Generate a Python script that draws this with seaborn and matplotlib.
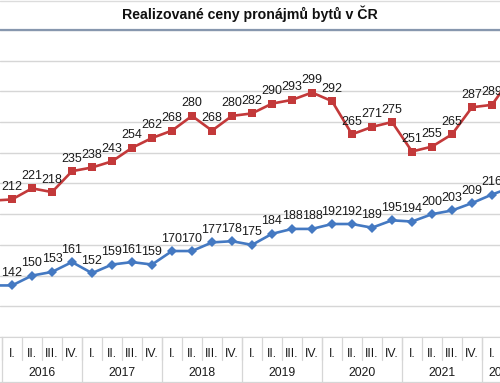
import numpy as np
import matplotlib.pyplot as plt
import seaborn as sns
from matplotlib.transforms import blended_transform_factory
from matplotlib.lines import Line2D

# period labels (2015 IV is only a lead-in at the left crop edge)
years = ["2015"] + ["2016"] * 4 + ["2017"] * 4 + ["2018"] * 4 + ["2019"] * 4 \
    + ["2020"] * 4 + ["2021"] * 4 + ["2022"] * 2
quarters = ["IV."] + ["I.", "II.", "III.", "IV."] * 6 + ["I.", "II."]

# rent prices (Kč/m2)
red_vals = [211, 212, 221, 218, 235, 238, 243, 254, 262, 268, 280, 268, 280, 282,
            290, 293, 299, 292, 265, 271, 275, 251, 255, 265, 287, 289, 312]
blue_vals = [142, 142, 150, 153, 161, 152, 159, 161, 159, 170, 170, 177, 178, 175,
             184, 188, 188, 192, 192, 189, 195, 194, 200, 203, 209, 216, 222]

red = "#c3393a"
blue = "#4479c2"
grid_c = "#d6d6d6"
x_lo, x_hi = -0.6, 24.4

sns.set_style("white")
plt.rcParams['font.family'] = ['Liberation Sans', 'DejaVu Sans']

fig = plt.figure(figsize=(5, 3.83), dpi=100)
ax = fig.add_axes([0, 0.12, 1, 0.802])

k = np.arange(len(red_vals)) - 1  # 2016 I. -> 0

sns.lineplot(x=k, y=red_vals, ax=ax, color=red, lw=1.9, marker="s",
             markersize=5.8, markeredgewidth=0)
sns.lineplot(x=k, y=blue_vals, ax=ax, color=blue, lw=1.9, marker="D",
             markersize=4.6, markeredgewidth=0)

for vals in (red_vals, blue_vals):
    for xi, v in zip(k, vals):
        if x_lo < xi < x_hi:
            ax.annotate(str(v), (xi, v), xytext=(0, 9), textcoords="offset points",
                        ha="center", va="center", fontsize=9, color="#1a1a1a")

ax.set_xlim(x_lo, x_hi)
ax.set_ylim(100, 350)
ax.set_yticks(np.arange(100, 351, 25))
ax.yaxis.grid(True, color=grid_c, lw=1)
ax.set_axisbelow(True)
ax.set_xticks([])
ax.tick_params(left=False, labelleft=False)
ax.set_xlabel("")
ax.set_ylabel("")
for s in ["left", "right"]:
    ax.spines[s].set_visible(False)
ax.spines["bottom"].set_color(grid_c)
ax.spines["top"].set_color("#8797ae")
ax.spines["top"].set_linewidth(1.6)

# table-like category axis
tr = blended_transform_factory(ax.transData, ax.transAxes)
for xi, q in zip(k, quarters):
    if x_lo < xi < x_hi:
        ax.text(xi, -0.055, q, transform=tr, ha="center", va="center",
                fontsize=8.8, color="#1a1a1a", clip_on=False)
    ax.plot([xi + 0.5, xi + 0.5], [0, -0.075], transform=tr, color=grid_c,
            lw=0.9, clip_on=False)

for y in dict.fromkeys(years):
    idx = [xi for xi, yy in zip(k, years) if yy == y]
    if y == "2015":
        continue
    ax.text(np.mean(idx), -0.118, y, transform=tr, ha="center", va="center",
            fontsize=8.8, color="#1a1a1a", clip_on=False)
    ax.plot([min(idx) - 0.5, min(idx) - 0.5], [0, -0.15], transform=tr,
            color=grid_c, lw=0.9, clip_on=False)
ax.plot([x_lo, x_hi], [-0.147, -0.147], transform=tr, color=grid_c, lw=0.9,
        clip_on=False)

fig.add_artist(Line2D([0, 1], [0.998, 0.998], color="#dcdcdc", lw=1))
fig.text(0.5, 0.963, "Realizované ceny pronájmů bytů v ČR", ha="center",
         va="center", fontsize=10.2, fontweight="bold", color="#111111")

fig.savefig("out.png", dpi=100)
